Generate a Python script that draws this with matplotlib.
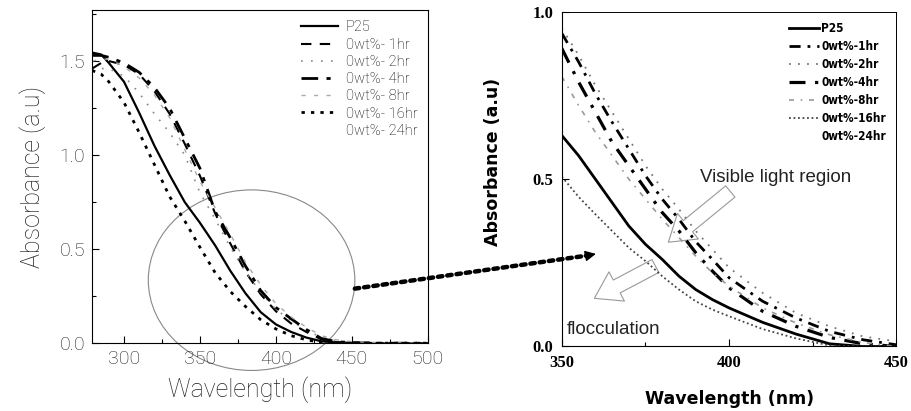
import matplotlib
matplotlib.use("Agg")
import matplotlib.pyplot as plt
from matplotlib.patches import Ellipse, FancyArrowPatch, ConnectionPatch
from matplotlib.ticker import MultipleLocator, FormatStrFormatter

# ---- left panel data (full spectrum) ----
wl_left = [279, 285, 290, 300, 310, 320, 330, 340, 350, 360, 370, 380,
           390, 400, 410, 420, 430, 440, 450, 470, 500]
p25_left = [1.545, 1.535, 1.49, 1.39, 1.225, 1.05, 0.895, 0.75, 0.64, 0.52, 0.385, 0.265,
            0.165, 0.10, 0.06, 0.03, 0.01, 0.004, 0.002, 0.0, 0.0]
hr1_left = [1.46, 1.49, 1.50, 1.48, 1.43, 1.34, 1.22, 1.06, 0.89, 0.69, 0.53, 0.38,
            0.26, 0.17, 0.105, 0.06, 0.02, 0.005, 0.002, 0.0, 0.0]
hr2_left = [1.45, 1.46, 1.46, 1.42, 1.33, 1.22, 1.12, 1.0, 0.80, 0.66, 0.51, 0.38,
            0.27, 0.18, 0.12, 0.07, 0.03, 0.012, 0.004, 0.0, 0.0]
hr4_left = [1.53, 1.53, 1.52, 1.49, 1.44, 1.36, 1.25, 1.09, 0.93, 0.70, 0.56, 0.41,
            0.28, 0.19, 0.13, 0.073, 0.025, 0.008, 0.003, 0.0, 0.0]
hr8_left = [1.50, 1.51, 1.51, 1.47, 1.41, 1.32, 1.20, 1.03, 0.86, 0.72, 0.58, 0.43,
            0.31, 0.21, 0.14, 0.085, 0.04, 0.018, 0.008, 0.002, 0.0]
hr16_left = [1.45, 1.43, 1.39, 1.28, 1.12, 0.95, 0.78, 0.65, 0.51, 0.375, 0.275, 0.195,
             0.125, 0.076, 0.04, 0.018, 0.004, 0.0, 0.0, 0.0, 0.0]

# ---- right panel data (zoom 350-450 nm) ----
wl_right = [350, 355, 360, 365, 370, 375, 380, 385, 390, 395, 400,
            410, 420, 430, 440, 450]
p25_right = [0.63, 0.57, 0.50, 0.43, 0.36, 0.305, 0.26, 0.21, 0.17, 0.14, 0.115,
             0.072, 0.037, 0.008, 0.0, 0.0]
hr1_right = [0.935, 0.85, 0.755, 0.67, 0.59, 0.51, 0.44, 0.38, 0.313, 0.26, 0.205,
             0.135, 0.085, 0.045, 0.02, 0.005]
hr2_right = [0.95, 0.87, 0.78, 0.70, 0.62, 0.54, 0.47, 0.41, 0.345, 0.29, 0.235,
             0.16, 0.10, 0.06, 0.03, 0.015]
hr4_right = [0.89, 0.79, 0.70, 0.61, 0.54, 0.47, 0.40, 0.345, 0.28, 0.225, 0.175,
             0.105, 0.06, 0.027, 0.008, 0.0]
hr8_right = [0.806, 0.72, 0.64, 0.57, 0.50, 0.44, 0.38, 0.325, 0.27, 0.22, 0.18,
             0.115, 0.07, 0.035, 0.012, 0.0]
hr16_right = [0.507, 0.447, 0.395, 0.345, 0.295, 0.255, 0.21, 0.17, 0.135, 0.11, 0.09,
              0.052, 0.024, 0.003, 0.0, 0.0]

labels_left = ["P25", "0wt%- 1hr", "0wt%- 2hr", "0wt%- 4hr",
               "0wt%- 8hr", "0wt%- 16hr", "0wt%- 24hr"]
labels_right = ["P25", "0wt%-1hr", "0wt%-2hr", "0wt%-4hr",
                "0wt%-8hr", "0wt%-16hr", "0wt%-24hr"]

thin = dict(family=["Roboto", "DejaVu Sans"], weight="light")

fig = plt.figure(figsize=(9.12, 4.11), dpi=100)

# ================= left panel =================
ax1 = fig.add_axes([0.101, 0.165, 0.368, 0.810])
ax1.plot(wl_left, p25_left, color="k", lw=1.6, ls="-", label=labels_left[0])
ax1.plot(wl_left, hr1_left, color="k", lw=1.5, ls=(0, (5, 4)), label=labels_left[1])
ax1.plot(wl_left, hr2_left, color="#888888", lw=1.2, ls=(0, (1, 5)), label=labels_left[2])
ax1.plot(wl_left, hr4_left, color="k", lw=2.0, ls=(0, (6, 3, 1.5, 3)), label=labels_left[3])
ax1.plot(wl_left, hr8_left, color="#aaaaaa", lw=1.0, ls=(0, (3, 6)), label=labels_left[4])
ax1.plot(wl_left, hr16_left, color="k", lw=2.0, ls=(0, (1.2, 2.2)), label=labels_left[5])
ax1.plot([], [], ls="none", label=labels_left[6])

ax1.set_xlim(279, 500)
ax1.set_ylim(0, 1.77)
ax1.xaxis.set_major_locator(MultipleLocator(50))
ax1.xaxis.set_minor_locator(MultipleLocator(25))
ax1.yaxis.set_major_locator(MultipleLocator(0.5))
ax1.yaxis.set_minor_locator(MultipleLocator(0.25))
ax1.yaxis.set_major_formatter(FormatStrFormatter("%.1f"))
ax1.tick_params(which="both", direction="in", width=0.8)
ax1.tick_params(which="major", length=5, labelsize=14, pad=5, labelcolor="#222222")
ax1.tick_params(which="minor", length=3)
for lab in ax1.get_xticklabels() + ax1.get_yticklabels():
    lab.set_fontfamily(thin["family"])
    lab.set_fontweight("light")
ax1.set_xlabel("Wavelength (nm)", fontsize=18, labelpad=6, color="#222222", **thin)
ax1.set_ylabel("Absorbance (a.u)", fontsize=18, labelpad=10, color="#222222", **thin)

ax1.legend(loc="upper right", frameon=False, handlelength=2.6,
           handletextpad=0.5, labelspacing=0.22, borderaxespad=0.3,
           prop=dict(family=["Roboto", "DejaVu Sans"], weight="light", size=10.5))

ax1.add_patch(Ellipse((384, 0.335), 136, 0.96, fill=False, ec="#888888",
                      lw=0.8, clip_on=False))

# ================= right panel =================
ax2 = fig.add_axes([0.616, 0.157, 0.367, 0.815])
ax2.plot(wl_right, p25_right, color="k", lw=2.0, ls="-", label=labels_right[0])
ax2.plot(wl_right, hr1_right, color="k", lw=2.0, ls=(0, (4, 2.5, 1, 2.5)), label=labels_right[1])
ax2.plot(wl_right, hr2_right, color="#777777", lw=1.3, ls=(0, (1, 4)), label=labels_right[2])
ax2.plot(wl_right, hr4_right, color="k", lw=2.3, ls=(0, (5, 3, 1, 3)), label=labels_right[3])
ax2.plot(wl_right, hr8_right, color="#999999", lw=1.2, ls=(0, (3, 4, 1, 4)), label=labels_right[4])
ax2.plot(wl_right, hr16_right, color="#444444", lw=1.3, ls=(0, (1, 1.5)), label=labels_right[5])
ax2.plot([], [], ls="none", label=labels_right[6])

ax2.set_xlim(350, 450)
ax2.set_ylim(0, 1.0)
ax2.xaxis.set_major_locator(MultipleLocator(50))
ax2.xaxis.set_minor_locator(MultipleLocator(25))
ax2.yaxis.set_major_locator(MultipleLocator(0.5))
ax2.yaxis.set_major_formatter(FormatStrFormatter("%.1f"))
ax2.tick_params(which="both", direction="in", width=0.8)
ax2.tick_params(which="major", length=5, labelsize=12, pad=6)
ax2.tick_params(which="minor", length=3)
for lab in ax2.get_xticklabels() + ax2.get_yticklabels():
    lab.set_fontfamily(["Liberation Serif", "DejaVu Serif"])
    lab.set_fontweight("bold")
ax2.set_xlabel("Wavelength (nm)", fontsize=12.5, fontweight="bold", labelpad=14)
ax2.set_ylabel("Absorbance (a.u)", fontsize=12.5, fontweight="bold")
ax2.yaxis.set_label_coords(-0.18, 0.55)
for s in ["top", "right"]:
    ax2.spines[s].set_linewidth(0.7)

ax2.legend(loc="upper right", frameon=False, handlelength=2.5,
           handletextpad=0.2, labelspacing=0.42, borderaxespad=0.5,
           prop=dict(family=["DejaVu Sans"], stretch="condensed",
                     weight="bold", size=8.5))

ax2.text(391.3, 0.505, "Visible light region", fontsize=13.5, ha="left", va="center",
         family=["Liberation Sans", "DejaVu Sans"], color="#222222")
ax2.text(351.6, 0.05, "flocculation", fontsize=13.5, ha="left", va="center",
         family=["Liberation Sans", "DejaVu Sans"], color="#222222")

block = "simple,head_width=1.7,head_length=1.3,tail_width=0.75"
ax2.add_patch(FancyArrowPatch((401.0, 0.468), (381.2, 0.306), arrowstyle=block,
                              mutation_scale=14, fc="none", ec="#999999", lw=0.8))
ax2.add_patch(FancyArrowPatch((378.7, 0.244), (359.0, 0.14), arrowstyle=block,
                              mutation_scale=14, fc="none", ec="#999999", lw=0.8))

# dotted connector from the circled region to the zoomed panel
con = ConnectionPatch(xyA=(452, 0.29), coordsA=ax1.transData,
                      xyB=(358.0, 0.272), coordsB=ax2.transData,
                      arrowstyle="-", lw=3.2, ls=(0, (1, 1.1)), color="k")
fig.add_artist(con)
ax2.annotate("", xy=(361.0, 0.278), xytext=(357.5, 0.271),
             arrowprops=dict(arrowstyle="-|>", color="k", lw=1, mutation_scale=16))

fig.savefig("out.png", dpi=100)
